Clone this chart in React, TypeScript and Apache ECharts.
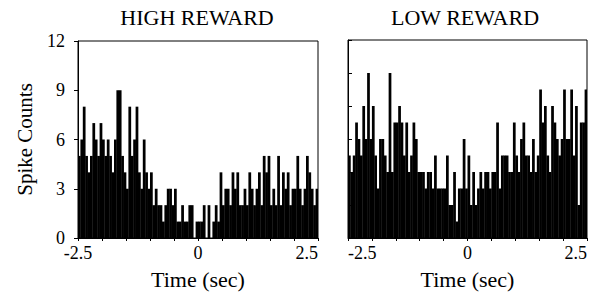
import React, { useEffect, useRef } from "react";
import * as echarts from "echarts";

// Peri-event histograms: 100 bins of 50 ms from -2.5 s to 2.5 s
const BIN_START = -2.5;
const BIN_WIDTH = 0.05;

const highReward = [
  5, 6, 8, 5, 4, 5, 7, 6, 5, 7,
  6, 5, 6, 5, 4, 6, 9, 9, 5, 4,
  3, 8, 5, 6, 8, 4, 3, 6, 4, 3,
  4, 2, 3, 2, 2, 1, 2, 3, 3, 2,
  3, 1, 1, 2, 1, 1, 2, 2, 0, 1,
  1, 1, 2, 0, 2, 0, 1, 2, 1, 4,
  2, 3, 3, 2, 4, 3, 4, 2, 2, 3,
  2, 4, 3, 2, 3, 4, 2, 5, 4, 5,
  2, 3, 2, 5, 2, 4, 3, 4, 2, 3,
  3, 5, 3, 2, 3, 5, 4, 3, 2, 3,
];

const lowReward = [
  5, 4, 5, 7, 6, 5, 8, 6, 10, 6,
  8, 5, 3, 6, 6, 5, 4, 10, 4, 7,
  7, 8, 7, 5, 7, 4, 5, 7, 6, 4,
  4, 4, 3, 4, 4, 3, 5, 3, 3, 3,
  3, 5, 2, 2, 4, 1, 3, 3, 6, 3,
  5, 2, 4, 2, 3, 4, 3, 4, 4, 3,
  4, 4, 7, 3, 5, 5, 5, 4, 4, 7,
  5, 4, 6, 7, 5, 5, 4, 6, 4, 5,
  9, 7, 8, 5, 4, 8, 7, 6, 5, 6,
  9, 6, 6, 9, 5, 8, 2, 7, 7, 9,
];

const panelTitles = ["HIGH REWARD", "LOW REWARD"];
const xTickLabels = [-2.5, 0, 2.5];
const xAxisTitle = "Time (sec)";
const yAxisTitle = "Spike Counts";

const FONT = "'Liberation Serif', 'Times New Roman', serif";

function toBins(values: number[]) {
  return values.map((v, i) => [BIN_START + i * BIN_WIDTH, v]);
}

function renderBar(params: any, api: any) {
  const x0 = api.value(0);
  const v = api.value(1);
  const pTop = api.coord([x0, v]);
  const pBot = api.coord([x0 + BIN_WIDTH, 0]);
  return {
    type: "rect",
    shape: {
      x: pTop[0],
      y: pTop[1],
      width: pBot[0] - pTop[0] + 0.35,
      height: pBot[1] - pTop[1],
    },
    style: { fill: "#000" },
  };
}

function xLabel(v: number) {
  for (const t of xTickLabels) {
    if (Math.abs(v - t) < 1e-6) return String(t);
  }
  return "";
}

export default function App() {
  const ref = useRef<HTMLDivElement>(null);

  useEffect(() => {
    if (!ref.current) return;
    const chart = echarts.init(ref.current, null, { renderer: "svg" });

    const xAxisBase = (gridIndex: number, alignMin: string) => ({
      gridIndex,
      type: "value",
      min: -2.5,
      max: 2.5,
      interval: 0.5,
      axisLine: { show: true, onZero: false, lineStyle: { color: "#000", width: 1 } },
      axisTick: { show: true, inside: false, length: 3, lineStyle: { color: "#000" } },
      axisLabel: {
        formatter: xLabel,
        color: "#000",
        fontSize: 18,
        fontFamily: FONT,
        margin: 6,
        alignMinLabel: alignMin,
        alignMaxLabel: "right",
        showMinLabel: true,
        showMaxLabel: true,
      },
      splitLine: { show: false },
      name: xAxisTitle,
      nameLocation: "middle",
      nameGap: 30,
      nameTextStyle: { color: "#000", fontSize: 22, fontFamily: FONT },
    });

    const option: any = {
      animation: false,
      grid: [
        { left: 78, top: 41, width: 240, height: 202, show: true, borderColor: "#000", borderWidth: 1 },
        { left: 348, top: 40, width: 239, height: 202, show: true, borderColor: "#000", borderWidth: 1 },
      ],
      xAxis: [xAxisBase(0, "center"), xAxisBase(1, "left")],
      yAxis: [
        {
          gridIndex: 0,
          type: "value",
          min: 0,
          max: 12,
          interval: 3,
          axisLine: { show: true, onZero: false, lineStyle: { color: "#000" } },
          axisTick: { show: true, inside: false, length: 4, lineStyle: { color: "#000" } },
          axisLabel: { color: "#000", fontSize: 18, fontFamily: FONT, margin: 13 },
          splitLine: { show: false },
          name: yAxisTitle,
          nameLocation: "middle",
          nameGap: 43,
          nameRotate: 90,
          nameTextStyle: { color: "#000", fontSize: 21, fontFamily: FONT },
        },
        {
          gridIndex: 1,
          type: "value",
          min: 0,
          max: 12,
          interval: 2,
          axisLine: { show: true, onZero: false, lineStyle: { color: "#000" } },
          axisTick: { show: true, inside: true, length: 4, lineStyle: { color: "#000" } },
          axisLabel: { show: false },
          splitLine: { show: false },
        },
      ],
      series: [
        {
          type: "custom",
          xAxisIndex: 0,
          yAxisIndex: 0,
          data: toBins(highReward),
          encode: { x: 0, y: 1 },
          renderItem: renderBar,
          clip: true,
        },
        {
          type: "custom",
          xAxisIndex: 1,
          yAxisIndex: 1,
          data: toBins(lowReward),
          encode: { x: 0, y: 1 },
          renderItem: renderBar,
          clip: true,
        },
      ],
      graphic: [
        {
          type: "text",
          x: 197,
          y: 17,
          style: {
            text: panelTitles[0],
            fill: "#000",
            font: `22px ${FONT}`,
            textAlign: "center",
            textVerticalAlign: "middle",
          },
        },
        {
          type: "text",
          x: 465,
          y: 17,
          style: {
            text: panelTitles[1],
            fill: "#000",
            font: `22px ${FONT}`,
            textAlign: "center",
            textVerticalAlign: "middle",
          },
        },
      ],
    };

    chart.setOption(option);
    return () => chart.dispose();
  }, []);

  return (
    <div
      ref={ref}
      style={{ position: "fixed", left: 0, top: 0, width: 606, height: 295, background: "#fff" }}
    />
  );
}
